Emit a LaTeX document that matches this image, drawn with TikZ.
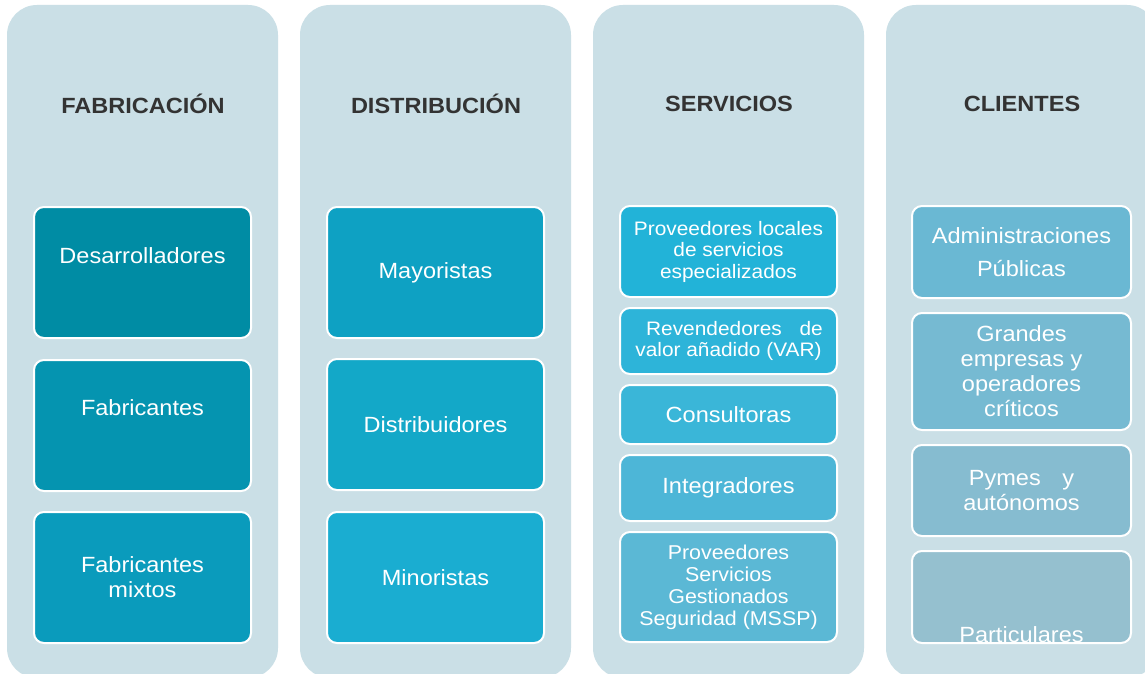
\documentclass[tikz,border=0pt]{standalone}
\usepackage{fontspec}
\setmainfont{Liberation Sans}[FakeStretch=1.07]
\usepackage{xcolor}
\usetikzlibrary{positioning}

\definecolor{panelcol}{HTML}{CADFE6}
\definecolor{titlecol}{HTML}{333333}
% fabricacion
\definecolor{fabA}{HTML}{008CA4}
\definecolor{fabB}{HTML}{0594B0}
\definecolor{fabC}{HTML}{0A9BBC}
% distribucion
\definecolor{disA}{HTML}{0EA1C3}
\definecolor{disB}{HTML}{13A8C8}
\definecolor{disC}{HTML}{1AADD1}
% servicios
\definecolor{serA}{HTML}{22B3D8}
\definecolor{serB}{HTML}{2DB4D9}
\definecolor{serC}{HTML}{3AB6D8}
\definecolor{serD}{HTML}{4DB6D7}
\definecolor{serE}{HTML}{5BB8D5}
% clientes
\definecolor{cliA}{HTML}{6AB8D3}
\definecolor{cliB}{HTML}{76BAD2}
\definecolor{cliC}{HTML}{86BCD0}
\definecolor{cliD}{HTML}{95C0CF}

\begin{document}
\begin{tikzpicture}[x=1pt,y=-1pt]
\tikzset{
	panel/.style={fill=panelcol, rounded corners=30pt},
	coltitle/.style={font=\fontsize{22}{26}\selectfont\bfseries, text=titlecol},
	actor/.style={draw=white, line width=2pt, rounded corners=10pt, text=white,
		align=center, inner sep=0pt, minimum width=217pt,
		font=\fontsize{22}{25}\selectfont},
	smalltext/.style={font=\fontsize{19.5}{21.5}\selectfont}
}

\def\panelW{271}
\def\colA{142.5}
\def\colB{435.5}
\def\colC{728.5}
\def\colD{1021.5}

\useasboundingbox[fill=white] (0,0) rectangle (1145,674);

% panels
\foreach \x in {7,300,593,886}{
	\fill[panel] (\x,5) rectangle (\x+\panelW,678);
}

% titles
\node[coltitle] (fab) at (143,104) {FABRICACIÓN};
\node[coltitle] (dis) at (436,104) {DISTRIBUCIÓN};
\node[coltitle] (ser) at (729,104) {SERVICIOS};
\node[coltitle] (cli) at (1022,104) {CLIENTES};

% fabricacion
\node[actor, fill=fabA, text height=56pt, text depth=75pt] (desarr) at (\colA,272.5) {Desarrolladores};
\node[actor, fill=fabB, text height=55pt, text depth=76pt] (fabric) at (\colA,425.5) {Fabricantes};
\node[actor, fill=fabC, minimum height=131pt] (mixtos) at (\colA,577.5) {Fabricantes\\mixtos};

% distribucion
\node[actor, fill=disA, minimum height=131pt] (mayor) at (\colB,272.5) {Mayoristas};
\node[actor, fill=disB, minimum height=131pt] (distr) at (\colB,424.5) {Distribuidores};
\node[actor, fill=disC, minimum height=131pt] (minor) at (\colB,577.5) {Minoristas};

% servicios
\node[actor, smalltext, fill=serA, minimum height=91pt] (locales) at (\colC,251.5) {Proveedores locales\\de servicios\\especializados};
\node[actor, smalltext, fill=serB, minimum height=66pt] (var) at (\colC,341) {\hspace{12pt}Revendedores\hspace{12pt} de\\valor añadido (VAR)};
\node[actor, fill=serC, minimum height=59pt] (consul) at (\colC,414.5) {Consultoras};
\node[actor, fill=serD, minimum height=66pt] (integ) at (\colC,488) {Integradores};
\node[actor, fill=serE, minimum height=110pt, font=\fontsize{20}{22}\selectfont] (mssp) at (\colC,587) {Proveedores\\Servicios\\Gestionados\\Seguridad (MSSP)};

% clientes
\node[actor, fill=cliA, minimum width=219pt, minimum height=92pt] (admin) at (\colD,252) {Administraciones\\[8pt]Públicas};
\node[actor, fill=cliB, minimum width=219pt, minimum height=117pt] (grandes) at (\colD,371.5) {Grandes\\empresas y\\operadores\\críticos};
\node[actor, fill=cliC, minimum width=219pt, minimum height=91pt] (pymes) at (\colD,490.5) {Pymes\hspace{15pt} y\\autónomos};
\node[actor, fill=cliD, minimum width=219pt, text height=91pt, text depth=1pt] (partic) at (\colD,597) {Particulares};

\end{tikzpicture}
\end{document}
